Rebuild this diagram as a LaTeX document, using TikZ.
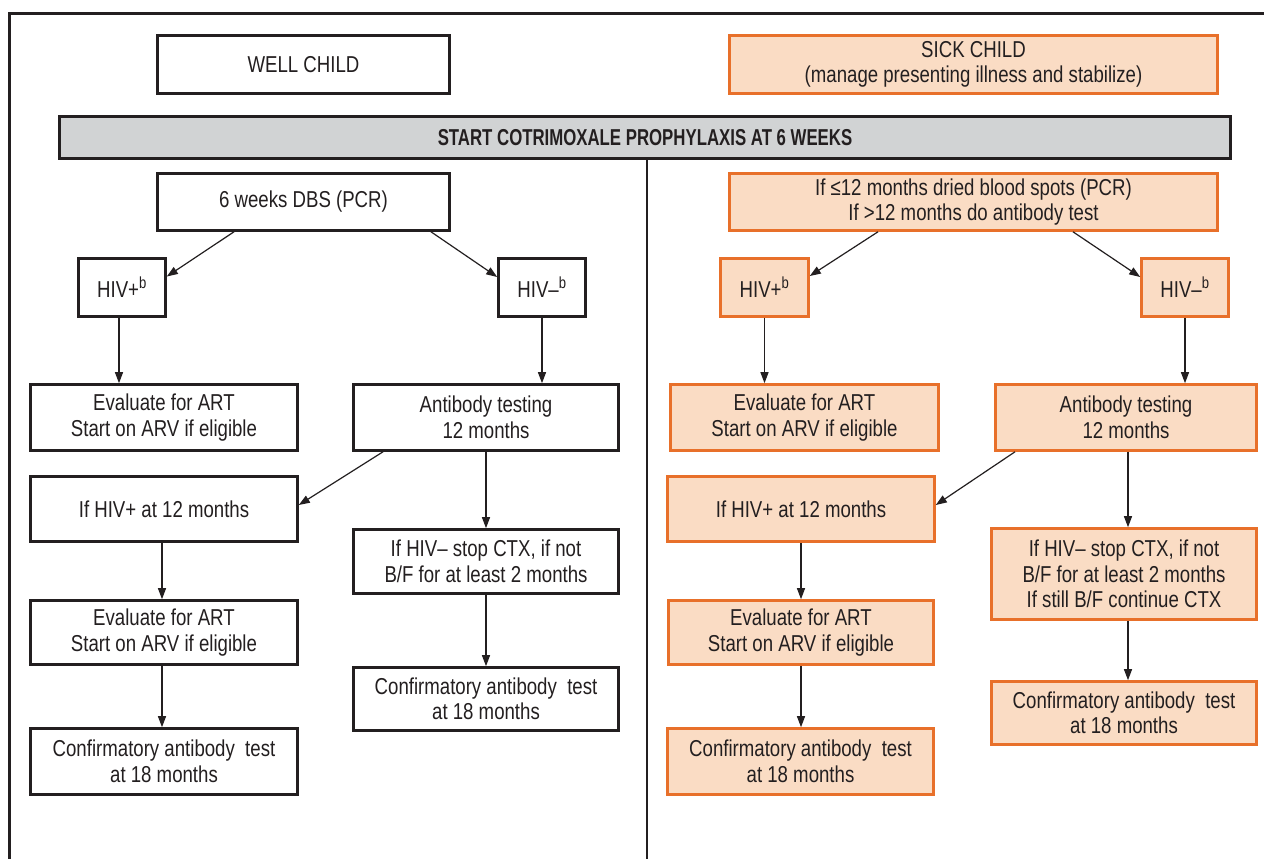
\documentclass[tikz,border=0pt]{standalone}
\usepackage{fontspec}
\setmainfont{Liberation Sans}[FakeStretch=0.81]
\newfontfamily\barfont{Liberation Sans}[FakeStretch=0.73]
\usetikzlibrary{arrows.meta}
\definecolor{ink}{RGB}{35,31,32}
\definecolor{peach}{RGB}{250,220,196}
\definecolor{orng}{RGB}{232,112,42}
\definecolor{barg}{RGB}{209,211,212}
\begin{document}
\begin{tikzpicture}[x=1pt,y=-1pt,
 every node/.style={font=\fontsize{23}{25.5}\selectfont, text=ink, align=center, inner sep=2pt},
 wbox/.style={draw=ink, line width=2.6pt, fill=white, rectangle},
 obox/.style={draw=orng, line width=2.6pt, fill=peach, rectangle},
 gbox/.style={draw=ink, line width=2.6pt, fill=barg, rectangle},
 arr/.style={draw=ink, line width=1.2pt, -{Triangle[length=11pt,width=8pt]}},
]
\useasboundingbox (0,0) rectangle (1264,859);
\fill[white] (0,0) rectangle (1264,859);
% frame and divider
\draw[ink, line width=3pt] (9,859) -- (9,14) -- (1264,14);
\draw[ink, line width=2pt] (647,160) -- (647,859);

% top row
\node[wbox, minimum width=292, minimum height=58] (well) at (303.5,64.5) {WELL CHILD};
\node[obox, minimum width=488, minimum height=58] (sick) at (973.5,64.5) {SICK CHILD\\(manage presenting illness and stabilize)};
\node[gbox, minimum width=1171, minimum height=42, font=\barfont\bfseries\fontsize{23}{25.5}\selectfont] (bar) at (645,137.5) {START COTRIMOXALE PROPHYLAXIS AT 6 WEEKS};

% test boxes
\node[wbox, minimum width=292, minimum height=57] (six) at (303.5,202) {6 weeks DBS (PCR)};
\node[obox, minimum width=488, minimum height=57] (test) at (973.5,202) {If ≤12 months dried blood spots (PCR)\\If >12 months do antibody test};

% HIV result boxes
\node[wbox, minimum width=87, minimum height=58] (hivpL) at (122,287.5) {HIV+\textsuperscript{b}};
\node[wbox, minimum width=87, minimum height=58] (hivmL) at (542,287.5) {HIV–\textsuperscript{b}};
\node[obox, minimum width=88, minimum height=58] (hivpR) at (764.5,287.5) {HIV+\textsuperscript{b}};
\node[obox, minimum width=87, minimum height=58] (hivmR) at (1185,287.5) {HIV–\textsuperscript{b}};

% left (well child)
\node[wbox, minimum width=267, minimum height=66] (evalL) at (164,417.5) {Evaluate for ART\\Start on ARV if eligible};
\node[wbox, minimum width=265, minimum height=66] (abL) at (486,417.5) {Antibody testing\\12 months};
\node[wbox, minimum width=267, minimum height=65] (ifpL) at (164,509) {If HIV+ at 12 months};
\node[wbox, minimum width=265, minimum height=64] (stopL) at (486,561.5) {If HIV– stop CTX, if not\\B/F for at least 2 months};
\node[wbox, minimum width=267, minimum height=64] (eval2L) at (164,632.5) {Evaluate for ART\\Start on ARV if eligible};
\node[wbox, minimum width=265, minimum height=63] (confM) at (486,699) {Confirmatory antibody\ \ test\\at 18 months};
\node[wbox, minimum width=267, minimum height=66] (confL) at (164,761.5) {Confirmatory antibody\ \ test\\at 18 months};

% right (sick child)
\node[obox, minimum width=268, minimum height=66] (evalR) at (804.5,417.5) {Evaluate for ART\\Start on ARV if eligible};
\node[obox, minimum width=261, minimum height=66] (abR) at (1126,417.5) {Antibody testing\\12 months};
\node[obox, minimum width=267, minimum height=65] (ifpR) at (801,509) {If HIV+ at 12 months};
\node[obox, minimum width=265, minimum height=91] (stopR) at (1124,574) {If HIV– stop CTX, if not\\B/F for at least 2 months\\If still B/F continue CTX};
\node[obox, minimum width=265, minimum height=64] (eval2R) at (801,632.5) {Evaluate for ART\\Start on ARV if eligible};
\node[obox, minimum width=266, minimum height=66] (confR) at (800.5,761.5) {Confirmatory antibody\ \ test\\at 18 months};
\node[obox, minimum width=265, minimum height=63] (confRR) at (1124,713) {Confirmatory antibody\ \ test\\at 18 months};

% connectors left
\draw[arr] ([xshift=-69.5pt]six.south) -- ([yshift=11pt]hivpL.east);
\draw[arr] ([xshift=127.5pt]six.south) -- ([yshift=10.5pt]hivmL.west);
\draw[arr] ([xshift=-3pt]hivpL.south) -- ([xshift=-3pt]hivpL.south |- evalL.north);
\draw[arr] (hivmL.south) -- (hivmL.south |- abL.north);
\draw[arr] ([xshift=-103pt]abL.south) -- ([yshift=4pt]ifpL.east);
\draw[arr] (abL.south) -- (stopL.north);
\draw[arr] ([xshift=-2pt]ifpL.south) -- ([xshift=-2pt]ifpL.south |- eval2L.north);
\draw[arr] ([xshift=-2pt]eval2L.south) -- ([xshift=-2pt]eval2L.south |- confL.north);
\draw[arr] (stopL.south) -- (confM.north);

% connectors right
\draw[arr] ([xshift=-95.5pt]test.south) -- ([yshift=11.5pt]hivpR.east);
\draw[arr] ([xshift=99.5pt]test.south) -- ([yshift=10.5pt]hivmR.west);
\draw[arr] (hivpR.south) -- (hivpR.south |- evalR.north);
\draw[arr] (hivmR.south) -- (hivmR.south |- abR.north);
\draw[arr] ([xshift=-111pt]abR.south) -- ([yshift=4pt]ifpR.east);
\draw[arr] ([xshift=2pt]abR.south) -- ([xshift=2pt]abR.south |- stopR.north);
\draw[arr] (ifpR.south) -- (ifpR.south |- eval2R.north);
\draw[arr] (eval2R.south) -- (eval2R.south |- confR.north);
\draw[arr] ([xshift=4pt]stopR.south) -- ([xshift=4pt]stopR.south |- confRR.north);
\end{tikzpicture}
\end{document}
